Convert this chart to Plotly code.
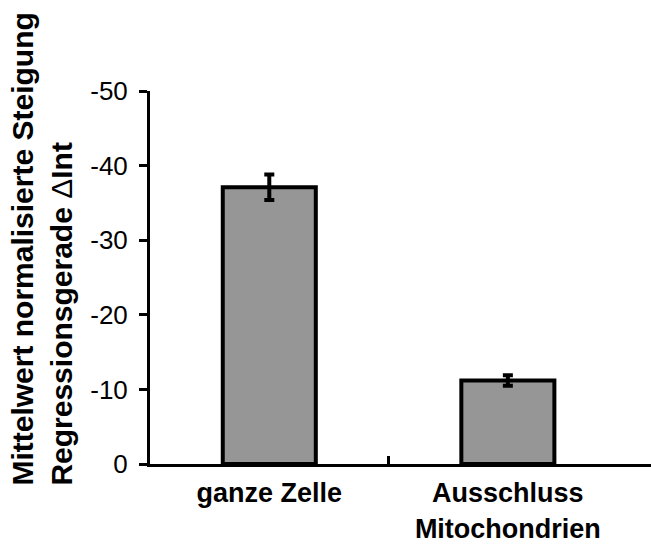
import plotly.graph_objects as go

# Mean normalised slope of the regression line (ΔInt) per region
categories = ["ganze Zelle", "Ausschluss<br>Mitochondrien"]
mean_slope = [-37.1, -11.2]
slope_err = [1.7, 0.7]
y_ticks = [0, -10, -20, -30, -40, -50]

FONT = "Liberation Sans, Arial, sans-serif"
x_pos = list(range(len(categories)))

fig = go.Figure(
    go.Bar(
        x=x_pos,
        y=mean_slope,
        width=0.39,
        marker=dict(color="#969696", line=dict(color="black", width=4)),
        error_y=dict(type="data", array=slope_err, color="black", thickness=4, width=5),
    )
)

fig.update_layout(
    width=651,
    height=545,
    margin=dict(l=150, r=0, t=91, b=81),
    paper_bgcolor="white",
    plot_bgcolor="white",
    showlegend=False,
    font=dict(family=FONT, color="black"),
)

fig.update_xaxes(
    range=[-0.5, 1.6],
    automargin=False,
    tickmode="array",
    tickvals=x_pos,
    ticktext=categories,
    ticks="",
    tickfont=dict(size=27, weight="bold", family=FONT, color="black"),
    ticklabelstandoff=3,
    showline=True,
    linecolor="black",
    linewidth=3,
    showgrid=False,
    zeroline=False,
    minor=dict(tickvals=[0.5], ticks="inside", ticklen=8, tickwidth=3, tickcolor="black", showgrid=False),
)

fig.update_yaxes(
    range=[0, -50],
    automargin=False,
    tickmode="array",
    tickvals=y_ticks,
    ticktext=[str(v) for v in y_ticks],
    ticks="outside",
    ticklen=8,
    tickwidth=3,
    tickcolor="black",
    tickfont=dict(size=26, family=FONT, color="black"),
    ticklabelstandoff=6,
    showline=True,
    linecolor="black",
    linewidth=3,
    showgrid=False,
    zeroline=False,
)

fig.add_annotation(
    text="Mittelwert normalisierte Steigung<br>Regressionsgerade <span style='font-weight:normal'>Δ</span>Int",
    xref="paper",
    yref="paper",
    x=-0.2156,
    y=-0.062,
    xanchor="center",
    yanchor="bottom",
    textangle=-90,
    align="left",
    showarrow=False,
    font=dict(size=30, weight="bold", family=FONT, color="black"),
)

fig.write_html("out.html")
